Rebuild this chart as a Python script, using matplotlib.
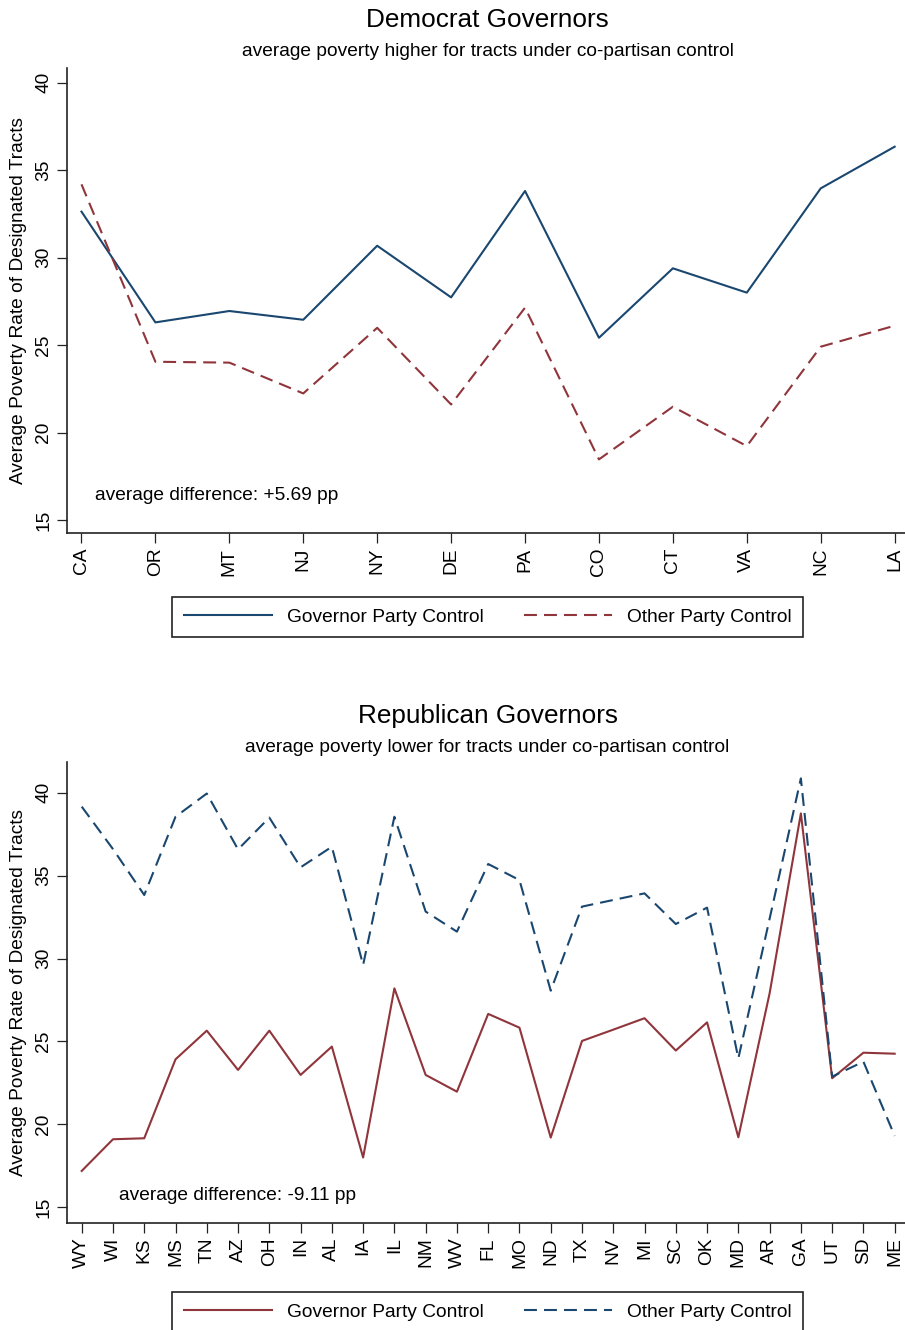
import numpy as np
import matplotlib
matplotlib.use('Agg')
import matplotlib.pyplot as plt

plt.rcParams['font.family'] = ['Liberation Sans', 'DejaVu Sans']

# Democrat governors
dem_states = ['CA', 'OR', 'MT', 'NJ', 'NY', 'DE', 'PA', 'CO', 'CT', 'VA', 'NC', 'LA']
dem_gov = [32.63, 26.30, 26.95, 26.45, 30.68, 27.73, 33.81, 25.42, 29.39, 28.00, 33.96, 36.34]
dem_other = [34.19, 24.05, 24.00, 22.24, 25.99, 21.61, 27.14, 18.47, 21.48, 19.23, 24.91, 26.11]

# Republican governors
rep_states = ['WY', 'WI', 'KS', 'MS', 'TN', 'AZ', 'OH', 'IN', 'AL', 'IA', 'IL', 'NM', 'WV', 'FL',
              'MO', 'ND', 'TX', 'NV', 'MI', 'SC', 'OK', 'MD', 'AR', 'GA', 'UT', 'SD', 'ME']
rep_gov = [17.19, 19.10, 19.16, 23.92, 25.65, 23.28, 25.65, 22.98, 24.69, 18.00, 28.20, 22.98, 21.97, 26.66,
           25.83, 19.20, 25.03, 25.71, 26.40, 24.45, 26.15, 19.22, 27.90, 38.75, 22.78, 24.32, 24.26]
rep_other = [39.16, 36.60, 33.83, 38.55, 39.95, 36.58, 38.50, 35.50, 36.74, 29.61, 38.55, 32.83, 31.62, 35.70,
             34.73, 28.06, 33.13, 33.53, 33.93, 32.08, 33.07, 23.98, 32.40, 40.86, 22.88, 23.78, 19.30]

navy = '#1a476f'
maroon = '#90353b'
dash = (0, (6.2, 3.4))
fs = 13.8

fig = plt.figure(figsize=(9.05, 13.3), dpi=100)


def panel(rect, states, gov, other, gov_color, other_color, xlim, ylim, note, note_xy):
    ax = fig.add_axes(rect)
    x = np.arange(len(states))
    l1, = ax.plot(x, gov, color=gov_color, lw=1.5, label='Governor Party Control')
    l2, = ax.plot(x, other, color=other_color, lw=1.5, ls=dash, label='Other Party Control')
    ax.set_xlim(*xlim)
    ax.set_ylim(*ylim)
    ax.set_xticks(x)
    ax.set_xticklabels(states, rotation=90, fontsize=fs)
    ax.set_yticks([15, 20, 25, 30, 35, 40])
    ax.set_yticklabels(['15', '20', '25', '30', '35', '40'], rotation=90, va='center', fontsize=fs)
    for s in ['top', 'right']:
        ax.spines[s].set_visible(False)
    for s in ['left', 'bottom']:
        ax.spines[s].set_color('#222222')
        ax.spines[s].set_linewidth(1.2)
    ax.tick_params(axis='both', length=7, width=0.9, color='#222222', pad=3.5)
    ax.set_ylabel('Average Poverty Rate of Designated Tracts', fontsize=fs)
    ax.yaxis.set_label_coords(-0.047, 0.5)
    ax.text(note_xy[0], note_xy[1], note, transform=ax.transAxes, fontsize=fs, ha='left', va='center')
    return ax, [l1, l2]


def legend(handles, y):
    leg = fig.legend(handles=handles, loc='upper center', bbox_to_anchor=(0.5387, y), ncol=2,
                     fontsize=fs, frameon=True, fancybox=False, edgecolor='#222222', framealpha=1,
                     borderpad=0.6, borderaxespad=0, handlelength=4.6, handletextpad=0.78,
                     columnspacing=2.1)
    leg.get_frame().set_linewidth(1.2)
    return leg


ax1, h1 = panel([0.0737, 0.5992, 0.9263, 0.3497], dem_states, dem_gov, dem_other, navy, maroon,
                (-0.2, 11.14), (14.26, 40.84), 'average difference: +5.69 pp', (0.034, 0.080))
fig.text(0.5387, 0.985, 'Democrat Governors', ha='center', va='center', fontsize=18.8)
fig.text(0.5387, 0.961, 'average poverty higher for tracts under co-partisan control',
         ha='center', va='center', fontsize=13.8)
legend(h1, 0.5511)

ax2, h2 = panel([0.0737, 0.0807, 0.9263, 0.3466], rep_states, rep_gov, rep_other, maroon, navy,
                (-0.48, 26.33), (14.07, 41.87), 'average difference: -9.11 pp', (0.062, 0.058))
fig.text(0.5387, 0.4617, 'Republican Governors', ha='center', va='center', fontsize=18.8)
fig.text(0.5387, 0.4383, 'average poverty lower for tracts under co-partisan control',
         ha='center', va='center', fontsize=13.8)
legend(h2, 0.0286)

fig.savefig('out.png', dpi=100)
